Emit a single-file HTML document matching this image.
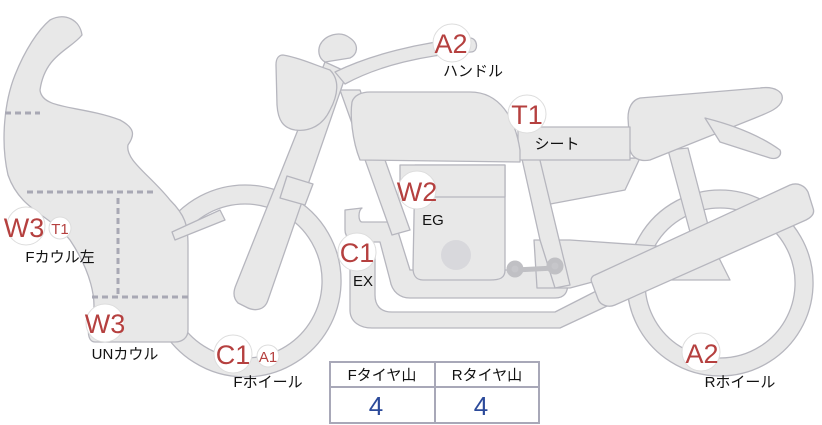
<!DOCTYPE html>
<html><head><meta charset="utf-8"><style>
body{margin:0;background:#fff;width:822px;height:425px;overflow:hidden;font-family:"Liberation Sans","Noto Sans CJK JP",sans-serif}
svg{position:absolute;left:0;top:0}
</style></head><body>
<svg width="822" height="425" viewBox="0 0 822 425" xmlns="http://www.w3.org/2000/svg">
<g fill="#e8e8e8" stroke="#b6b6be" stroke-width="1.3" stroke-linejoin="round">
<!-- front wheel -->
<path fill-rule="evenodd" d="M245,185a96,96 0 1,0 0.1,0Z M245,204a77,77 0 1,0 0.1,0Z"/>
<!-- rear wheel -->
<path fill-rule="evenodd" d="M720,190a93,93 0 1,0 0.1,0Z M720,208a75,75 0 1,0 0.1,0Z"/>
<!-- fairing -->
<path d="M50,20 C65,12 80,20 82,35 C70,50 45,55 40,90 C42,110 80,105 120,120 C135,128 135,135 128,145 C125,160 150,175 170,200 C185,215 188,225 188,245 L188,330 C188,338 182,342 175,342 L95,342 C88,342 86,330 92,320 C98,300 90,270 70,240 C50,215 20,210 8,175 C0,140 5,100 15,75 C25,50 38,30 50,20Z"/>
<!-- exhaust lower -->
<path d="M350,250 L350,310 C350,322 360,328 372,328 L560,328 L620,300 L612,283 L555,312 L392,312 C380,312 375,305 375,295 L375,250Z"/>
<path d="M345,210 L345,230 C345,240 355,242 365,242 L380,242 L390,280 C392,292 400,298 410,298 L555,298 C565,298 568,292 568,282 L568,270 L410,270 L395,222 L362,222 C358,222 358,210 362,208Z"/>
<!-- frame rear -->
<path d="M534,240 L570,240 L715,250 L730,280 L600,280 L570,288 L537,288Z"/>
<path d="M668,150 L688,148 L708,225 L690,232Z"/>
<path d="M528,160 L640,158 L625,190 L545,205 L535,200Z"/>
<!-- frame main -->
<path d="M340,90 L360,90 L410,230 L392,235Z"/>
<path d="M520,150 L538,152 L570,285 L555,288 L540,240Z"/>
<!-- engine -->
<path d="M415,165 L505,165 L505,270 C505,278 500,280 490,280 L423,280 C416,280 413,275 413,268Z"/>
<path d="M400,165 L505,165 L505,197 L400,197Z"/>
<!-- muffler -->
<path d="M595,275 L790,185 C798,182 805,186 808,192 L813,208 C815,213 812,217 806,220 L615,305 C608,308 600,305 598,299 L592,283 C590,279 592,276 595,275Z"/>
<!-- rear seat -->
<path d="M640,98 L760,88 C775,86 784,92 782,100 C780,108 770,112 755,118 L650,160 C640,162 632,158 630,150 L628,118 C628,108 632,100 640,98Z"/>
<path d="M705,118 C725,123 755,132 780,150 C782,155 778,160 770,158 L720,142Z"/>
<!-- seat bar -->
<path d="M518,127 L630,127 L630,160 L518,160Z"/>
<!-- tank -->
<path d="M370,92 L470,92 C500,92 515,118 520,150 L520,162 L360,160 C352,140 350,115 352,102 C354,95 362,92 370,92Z"/>
<!-- fork -->
<path d="M325,62 L347,72 L268,300 C265,310 255,312 246,307 L238,303 C233,298 233,292 236,285Z"/>
<path d="M287,176 L313,184 L305,205 L280,198Z"/>
<!-- handlebar -->
<path d="M335,72 C370,55 420,42 470,38 C478,38 479,52 471,52 C425,55 380,65 345,84Z"/>
<!-- headlight -->
<path d="M283,55 C300,58 315,65 330,70 C340,80 338,95 330,110 C323,125 310,132 295,130 C283,128 278,120 277,105 L276,65 C276,58 279,55 283,55Z"/>
<path d="M320,45 C325,35 340,30 350,38 C360,45 357,55 350,58 L325,62 C318,58 318,50 320,45Z"/>
<path d="M225,220 L175,240 L172,232 L220,210Z" />
</g>
<circle cx="456" cy="255" r="15" fill="#d8d8dc"/>
<g stroke="#c0c0c4" stroke-width="5" fill="#c6c6ca">
<line x1="515" y1="270" x2="555" y2="268"/>
<circle cx="515" cy="269" r="6"/><circle cx="555" cy="266" r="6"/>
</g>
<!-- dotted lines -->
<g stroke="#a8a8b4" stroke-width="3" stroke-dasharray="6,4" fill="none">
<line x1="5" y1="113" x2="40" y2="113"/>
<line x1="27" y1="192" x2="155" y2="192"/>
<line x1="118" y1="198" x2="118" y2="295"/>
<line x1="92" y1="297" x2="188" y2="297"/>
</g>
<!-- markers -->
<g fill="#fff" stroke="#ddd" stroke-width="1">
<circle cx="452" cy="43" r="19"/><circle cx="527" cy="114" r="19"/><circle cx="417" cy="190" r="19"/>
<circle cx="357" cy="252" r="19"/><circle cx="26" cy="226" r="19"/><circle cx="60" cy="228" r="11"/>
<circle cx="105" cy="323" r="19"/><circle cx="233" cy="354" r="19"/><circle cx="268" cy="356" r="11"/>
<circle cx="701" cy="352" r="19"/>
</g>
<g fill="#b5403f" font-size="27" text-anchor="middle" font-family="Liberation Sans,sans-serif">
<text x="451" y="53">A2</text><text x="527" y="124">T1</text><text x="417" y="201">W2</text>
<text x="357" y="262">C1</text><text x="24" y="237">W3</text><text x="105" y="333">W3</text>
<text x="233" y="364">C1</text><text x="702" y="363">A2</text>
<text x="60" y="234" font-size="15">T1</text><text x="268" y="362" font-size="15">A1</text>
</g>
<g fill="#111" font-size="15" text-anchor="middle">
<text x="473" y="76">ハンドル</text><text x="557" y="149">シート</text><text x="433" y="225">EG</text>
<text x="363" y="286">EX</text><text x="60" y="262">Fカウル左</text><text x="125" y="359">UNカウル</text>
<text x="268" y="387">Fホイール</text><text x="740" y="387">Rホイール</text>
</g>
<!-- table -->
<g fill="#fff" stroke="#a8a8b8" stroke-width="2">
<rect x="330" y="362" width="209" height="61"/>
<line x1="330" y1="387" x2="539" y2="387"/>
<line x1="435" y1="362" x2="435" y2="423"/>
</g>
<g font-size="15" fill="#111" text-anchor="middle">
<text x="382" y="380">Fタイヤ山</text><text x="487" y="380">Rタイヤ山</text>
</g>
<g font-size="26" fill="#2c4a9a" text-anchor="middle">
<text x="376" y="415">4</text><text x="481" y="415">4</text>
</g>
</svg>
</body></html>
